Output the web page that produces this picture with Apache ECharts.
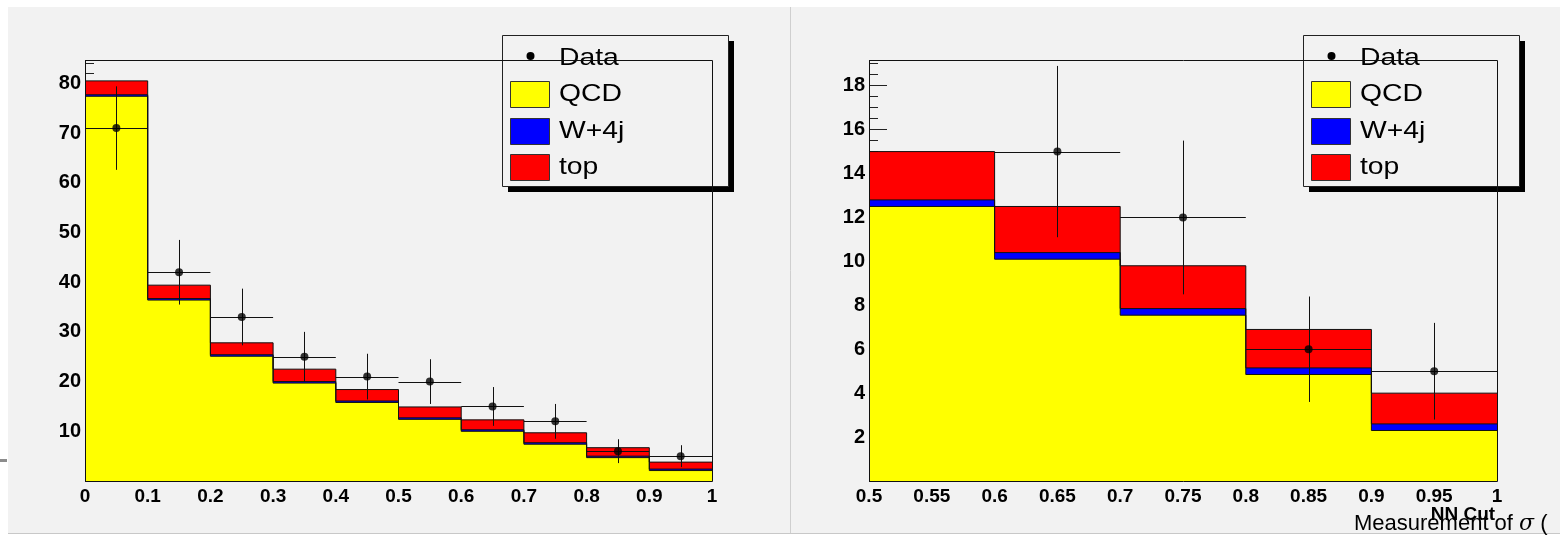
<!DOCTYPE html>
<html><head><meta charset="utf-8">
<script src="https://cdn.jsdelivr.net/npm/echarts@6/dist/echarts.min.js"></script>
<style>html,body{margin:0;padding:0;background:#fff;}#c{width:1560px;height:536px;}</style>
</head><body><div id="c"></div>
<script>
// ---------- data ----------
const leftEdges = [0, 0.1, 0.2, 0.3, 0.4, 0.5, 0.6, 0.7, 0.8, 0.9];
const leftUpper = 1.0;
const leftQCD = [77.4, 36.4, 25.1, 19.7, 15.8, 12.4, 10.0, 7.4, 4.7, 2.1];
const leftW   = [0.3, 0.3, 0.3, 0.3, 0.3, 0.3, 0.3, 0.3, 0.3, 0.3];
const leftTop = [2.8, 2.7, 2.4, 2.5, 2.3, 2.2, 2.0, 2.0, 1.7, 1.4];
const leftData = [71, 42, 33, 25, 21, 20, 15, 12, 6, 5];
const leftErr  = [8.4, 6.5, 5.7, 5.0, 4.6, 4.5, 3.9, 3.5, 2.4, 2.2];

const rightEdges = [0.5, 0.6, 0.7, 0.8, 0.9];
const rightUpper = 1.0;
const rightQCD = [12.5, 10.1, 7.55, 4.85, 2.3];
const rightW   = [0.3, 0.3, 0.3, 0.3, 0.3];
const rightTop = [2.2, 2.1, 1.95, 1.75, 1.4];
const rightData = [null, 15, 12, 6, 5];
const rightErr  = [null, 3.9, 3.5, 2.4, 2.2];

const binWidth = 0.1;
const legendNames = ['Data', 'QCD', 'W+4j', 'top'];
const legendColors = [null, '#ffff00', '#0000ff', '#ff0000'];
const xTitle = 'NN Cut';

// ---------- helpers ----------
const FONT = "'Liberation Sans', Arial, Helvetica, sans-serif";
function stepData(edges, upper, vals) {
  const d = edges.map((x, i) => [x, vals[i]]);
  d.push([upper, vals[vals.length - 1]]);
  return d;
}
function cum(...arrs) { return arrs[0].map((_, i) => arrs.reduce((s, a) => s + a[i], 0)); }
function histSeries(gi, edges, upper, vals, color) {
  return {
    type: 'line', xAxisIndex: gi, yAxisIndex: gi * 2, step: 'end', symbol: 'none',
    data: stepData(edges, upper, vals), silent: true, animation: false,
    lineStyle: { color: '#111', width: 1 },
    areaStyle: { color: color, opacity: 1, origin: 'start' }
  };
}
function errSeries(gi, edges, vals, errs) {
  const data = [];
  edges.forEach((x, i) => { if (vals[i] != null) data.push([x + binWidth / 2, vals[i], errs[i]]); });
  return [{
    type: 'custom', xAxisIndex: gi, yAxisIndex: gi * 2, silent: true, animation: false, z: 5,
    data: data,
    renderItem: function (params, api) {
      const x = api.value(0), y = api.value(1), e = api.value(2);
      const pL = api.coord([x - binWidth / 2, y]), pR = api.coord([x + binWidth / 2, y]);
      const pT = api.coord([x, y + e]), pB = api.coord([x, y - e]);
      const st = { stroke: '#111', lineWidth: 1 };
      return { type: 'group', children: [
        { type: 'line', shape: { x1: pL[0], y1: Math.round(pL[1]) + 0.5, x2: pR[0], y2: Math.round(pR[1]) + 0.5 }, style: st },
        { type: 'line', shape: { x1: Math.round(pT[0]) + 0.5, y1: pT[1], x2: Math.round(pB[0]) + 0.5, y2: pB[1] }, style: st }
      ] };
    }
  }, {
    type: 'scatter', xAxisIndex: gi, yAxisIndex: gi * 2, silent: true, animation: false, z: 6,
    symbol: 'circle', symbolSize: 8, itemStyle: { color: '#000' },
    data: data.map(d => [d[0], d[1]])
  }];
}

const grids = [
  { left: 85, top: 60, width: 627, height: 421 },
  { left: 869, top: 60, width: 628, height: 421 }
];
const yMax = [84.7, 19.17];
const yMajor = [10, 2];
const yMinor = [2, 0.5];
const xMin = [0, 0.5], xMax = [1, 1], xInt = [0.1, 0.05];

const xAxes = [], yAxes = [];
[0, 1].forEach(gi => {
  xAxes.push({
    type: 'value', gridIndex: gi, position: 'bottom', min: xMin[gi], max: xMax[gi], interval: xInt[gi],
    axisLine: { show: false }, axisTick: { show: false }, splitLine: { show: false },
    axisLabel: { fontFamily: FONT, fontWeight: 'bold', fontSize: 19, color: '#000', margin: 6 }
  });
  const maj = yMajor[gi];
  yAxes.push({
    type: 'value', gridIndex: gi, position: 'left', min: 0, max: yMax[gi], interval: maj,
    axisLine: { show: false }, splitLine: { show: false },
    axisTick: { show: true, inside: true, length: 18, lineStyle: { color: '#222', width: 1 } },
    axisLabel: {
      fontFamily: FONT, fontWeight: 'bold', fontSize: 20, color: '#000', margin: 4,
      showMaxLabel: false,
      formatter: v => (v > 0 && Math.abs(v / maj - Math.round(v / maj)) < 1e-6) ? String(Math.round(v)) : ''
    }
  });
  yAxes.push({
    type: 'value', gridIndex: gi, position: 'left', offset: 0, min: 0, max: yMax[gi], interval: yMinor[gi],
    axisLine: { show: false }, splitLine: { show: false }, axisLabel: { show: false },
    axisTick: { show: true, inside: true, length: 9, lineStyle: { color: '#222', width: 1 } }
  });
});

const series = [
  histSeries(0, leftEdges, leftUpper, cum(leftQCD, leftW, leftTop), legendColors[3]),
  histSeries(0, leftEdges, leftUpper, cum(leftQCD, leftW), legendColors[2]),
  histSeries(0, leftEdges, leftUpper, leftQCD, legendColors[1]),
  ...errSeries(0, leftEdges, leftData, leftErr),
  histSeries(1, rightEdges, rightUpper, cum(rightQCD, rightW, rightTop), legendColors[3]),
  histSeries(1, rightEdges, rightUpper, cum(rightQCD, rightW), legendColors[2]),
  histSeries(1, rightEdges, rightUpper, rightQCD, legendColors[1]),
  ...errSeries(1, rightEdges, rightData, rightErr)
];

function legendGroup(x0, y0, w, h) {
  const children = [
    { type: 'rect', shape: { x: x0 + 6, y: y0 + 6, width: w, height: h }, style: { fill: '#000' } },
    { type: 'rect', shape: { x: x0 + 0.5, y: y0 + 0.5, width: w, height: h }, style: { fill: '#f2f2f2', stroke: '#222', lineWidth: 1 } }
  ];
  legendNames.forEach((n, i) => {
    const cy = y0 + 23 + i * 36.5;
    if (i === 0) {
      children.push({ type: 'circle', shape: { cx: x0 + 28.5, cy: cy - 2, r: 4 }, style: { fill: '#000' } });
    } else {
      children.push({ type: 'rect', shape: { x: x0 + 8.5, y: Math.round(cy - 13.5) + 0.5, width: 39, height: 26 },
        style: { fill: legendColors[i], stroke: '#333', lineWidth: 1 } });
    }
    children.push({ type: 'text', x: x0 + 57, y: cy, scaleX: 1.18, scaleY: 1, originX: 0, originY: 0,
      style: { x: 0, y: 0, text: n, fontFamily: FONT, fontSize: 24, fill: '#000', verticalAlign: 'middle' } });
  });
  return { type: 'group', z: 100, children: children };
}

const graphic = [
  { type: 'rect', z: -1, shape: { x: 0, y: 0, width: 1560, height: 7 }, style: { fill: '#fff' } },
  { type: 'rect', z: -1, shape: { x: 0, y: 0, width: 8, height: 536 }, style: { fill: '#fff' } },
  { type: 'rect', z: -1, shape: { x: 0, y: 534, width: 1560, height: 2 }, style: { fill: '#fff' } },
  { type: 'rect', z: 1, shape: { x: 0, y: 459, width: 7, height: 3 }, style: { fill: '#8c8c8c' } },
  { type: 'line', z: 1, shape: { x1: 790.5, y1: 7, x2: 790.5, y2: 534 }, style: { stroke: '#cfcfcf', lineWidth: 1 } },
  { type: 'line', z: 1, shape: { x1: 8, y1: 533.5, x2: 1560, y2: 533.5 }, style: { stroke: '#c8c8c8', lineWidth: 1 } },
  { type: 'rect', z: 50, shape: { x: 85.5, y: 60.5, width: 627, height: 421 }, style: { fill: null, stroke: '#111', lineWidth: 1 } },
  { type: 'rect', z: 50, shape: { x: 869.5, y: 60.5, width: 628, height: 421 }, style: { fill: null, stroke: '#111', lineWidth: 1 } },
  legendGroup(502, 35, 226, 151),
  legendGroup(1303, 35, 216, 151),
  { type: 'text', z: 100, x: 1463, y: 515, style: { text: xTitle, fontFamily: FONT, fontWeight: 'bold', fontSize: 19, fill: '#000', align: 'center', verticalAlign: 'middle' } },
  { type: 'text', z: 101, x: 1354, y: 524, style: {
      text: '{a|Measurement of }{s|σ}{a| (}', verticalAlign: 'middle',
      rich: { a: { fontFamily: FONT, fontSize: 22, fill: '#000', color: '#000' }, s: { fontFamily: "'DejaVu Serif', serif", fontStyle: 'italic', fontSize: 22, color: '#000', fill: '#000' } } } }
];

const chart = echarts.init(document.getElementById('c'), null, { renderer: 'canvas' });
chart.setOption({
  backgroundColor: '#f2f2f2',
  animation: false,
  grid: grids,
  xAxis: xAxes,
  yAxis: yAxes,
  series: series,
  graphic: graphic
});
</script></body></html>
